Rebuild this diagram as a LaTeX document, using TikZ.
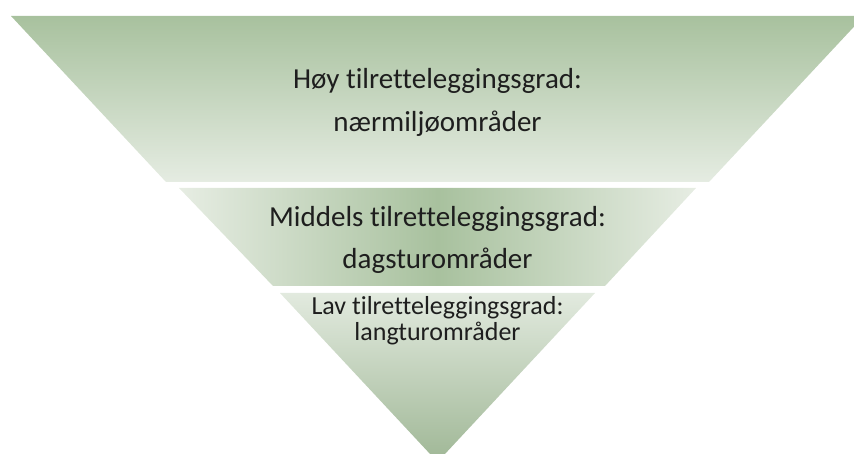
\documentclass[tikz,border=0pt]{standalone}
\usepackage{fontspec}
\setmainfont{Carlito}[Ligatures={NoCommon}]
\definecolor{gdark}{HTML}{A8C19E}
\definecolor{glight}{HTML}{E5ECE2}
\definecolor{gmid}{HTML}{DCE5D7}
\definecolor{txt}{HTML}{1E1E1E}
\tikzset{
  lbl/.style={anchor=base, inner sep=0pt, text=txt},
  big/.style={lbl, font=\fontsize{29}{29}\selectfont},
  small/.style={lbl, font=\fontsize{26}{26}\selectfont}
}
\begin{document}
\begin{tikzpicture}[x=1pt,y=-1pt]
\useasboundingbox (0,0) rectangle (854,454);
\clip (0,0) rectangle (854,454);
% top segment
\shade[top color=gdark, bottom color=glight]
  (11,16) -- (864,16) -- (709,182) -- (166,182) -- cycle;
% middle segment
\shade[left color=gmid!70!white, right color=gmid!70!white, middle color=gdark]
  (179,188) -- (696,188) -- (605,286) -- (273,286) -- cycle;
% bottom segment
\shade[top color=glight!95!gdark, bottom color=gdark!95!black]
  (280,293) -- (595,293) -- (437.5,462) -- cycle;
% texts
\node[big] (t1a) at (437.5,89) {Høy tilretteleggingsgrad:};
\node[big] (t1b) at (437.5,132) {nærmiljøområder};
\node[big] (t2a) at (437.5,227) {Middels tilretteleggingsgrad:};
\node[big] (t2b) at (437.5,269) {dagsturområder};
\node[small] (t3a) at (437.5,315) {Lav tilretteleggingsgrad:};
\node[small] (t3b) at (437.5,340) {langturområder};
\end{tikzpicture}
\end{document}
